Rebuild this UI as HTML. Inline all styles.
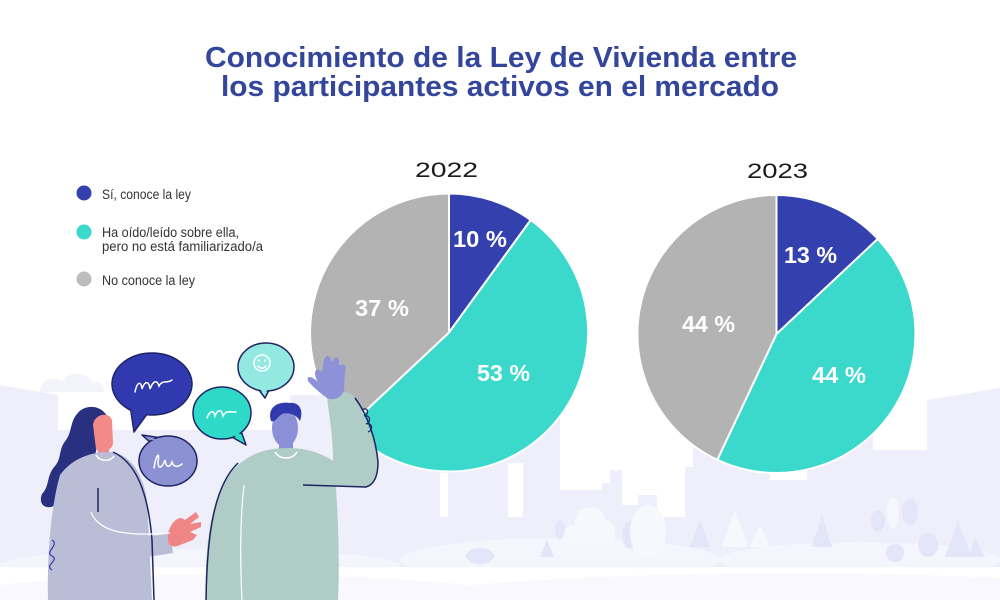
<!DOCTYPE html>
<html><head><meta charset="utf-8"><style>
html,body{margin:0;padding:0;background:#fff;}
svg{display:block;}
</style></head><body>
<svg width="1000" height="600" viewBox="0 0 1000 600" xmlns="http://www.w3.org/2000/svg">
<rect width="1000" height="600" fill="#fff"/>
<!-- skyline background -->
<g fill="#EEEFFB">
  <polygon points="0,385 58,395 58,567 0,567"/>
  <rect x="58" y="430" width="240" height="137"/>
  <rect x="290" y="395" width="270" height="172"/>
  <rect x="560" y="465" width="133" height="102"/>
  <rect x="693" y="400" width="234" height="167"/>
  <polygon points="927,400 1000,388 1000,567 927,567"/>
</g>
<path d="M40,390 C42,378 55,376 62,382 C68,370 88,372 92,382 C100,380 106,386 104,392 L40,392 Z" fill="#F3F4FC"/>
<g fill="#fff">
  <rect x="440" y="473" width="8" height="44"/>
  <rect x="508" y="463" width="15" height="54"/>
  <rect x="560" y="380" width="42" height="110"/>
  <rect x="602" y="380" width="8" height="103"/>
  <rect x="610" y="380" width="12" height="90"/>
  <rect x="622" y="380" width="16" height="125"/>
  <rect x="638" y="380" width="19" height="115"/>
  <rect x="657" y="380" width="28" height="137"/>
  <rect x="685" y="380" width="8" height="87"/>
  <rect x="770" y="440" width="37" height="40"/>
  <rect x="873" y="380" width="54" height="70"/>
</g>
<!-- light hills in band -->
<g fill="#F4F5FD">
  <ellipse cx="560" cy="560" rx="160" ry="22"/>
  <ellipse cx="860" cy="560" rx="140" ry="18"/>
  <ellipse cx="200" cy="565" rx="200" ry="16"/>
</g>
<!-- trees -->
<g fill="#E3E5F8">
  <polygon points="690,547 700,520 710,547"/>
  <polygon points="812,547 822,515 832,547"/>
  <polygon points="945,557 958,522 972,557"/>
  <polygon points="968,557 975,538 985,557"/>
  <polygon points="540,557 547,540 554,557"/>
  <ellipse cx="878" cy="521" rx="7" ry="11"/>
  <ellipse cx="910" cy="512" rx="8" ry="13"/>
  <ellipse cx="895" cy="553" rx="9" ry="9"/>
  <ellipse cx="928" cy="545" rx="10" ry="12"/>
  <ellipse cx="560" cy="530" rx="5" ry="9"/>
  <ellipse cx="480" cy="556" rx="14" ry="8"/>
  <ellipse cx="630" cy="535" rx="8" ry="14"/>
</g>
<g fill="#F7F8FE">
  <ellipse cx="648" cy="532" rx="18" ry="27"/>
  <path d="M575,545 C560,545 560,525 575,525 C572,505 600,500 605,520 C618,520 620,545 605,545 Z"/>
  <ellipse cx="893" cy="513" rx="6" ry="16"/>
  <polygon points="722,547 735,510 748,547"/>
  <polygon points="750,547 760,525 770,547"/>
</g>
<!-- ground -->
<rect x="0" y="567" width="1000" height="33" fill="#fff"/>
<path d="M0,585 C150,570 330,572 470,585 C600,575 780,568 1000,578 L1000,600 L0,600 Z" fill="#F8F8FE"/>

<!-- Title -->
<g font-family="'Liberation Sans', sans-serif" font-weight="bold" font-size="29" fill="#34469B">
  <text x="205" y="67" textLength="592" lengthAdjust="spacingAndGlyphs">Conocimiento de la Ley de Vivienda entre</text>
  <text x="221" y="96" textLength="558" lengthAdjust="spacingAndGlyphs">los participantes activos en el mercado</text>
</g>

<!-- Legend -->
<circle cx="84" cy="193" r="7.5" fill="#3340AE"/>
<circle cx="84" cy="232" r="7.5" fill="#3AD9CC"/>
<circle cx="84" cy="279" r="7.5" fill="#BDBDBD"/>
<g font-family="'Liberation Sans', sans-serif" font-size="13.5" fill="#333">
  <text x="102" y="199" textLength="89" lengthAdjust="spacingAndGlyphs">Sí, conoce la ley</text>
  <text x="102" y="237" textLength="137" lengthAdjust="spacingAndGlyphs">Ha oído/leído sobre ella,</text>
  <text x="102" y="251" textLength="161" lengthAdjust="spacingAndGlyphs">pero no está familiarizado/a</text>
  <text x="102" y="285" textLength="93" lengthAdjust="spacingAndGlyphs">No conoce la ley</text>
</g>

<!-- Year labels -->
<g font-family="'Liberation Sans', 'DejaVu Sans', sans-serif" font-size="21" fill="#1a1a1a">
  <text x="415" y="177" textLength="63" lengthAdjust="spacingAndGlyphs">2022</text>
  <text x="747" y="178" textLength="61" lengthAdjust="spacingAndGlyphs">2023</text>
</g>

<!-- Pie 2022 -->
<g stroke="#fff" stroke-width="2" stroke-linejoin="round">
  <path d="M449,332.5 L449,193.5 A139,139 0 0 1 530.7,220 Z" fill="#3340AE"/>
  <path d="M449,332.5 L530.7,220 A139,139 0 1 1 347.7,427.6 Z" fill="#3AD9CC"/>
  <path d="M449,332.5 L347.7,427.6 A139,139 0 0 1 449,193.5 Z" fill="#B3B3B3"/>
</g>
<!-- Pie 2023 -->
<g stroke="#fff" stroke-width="2" stroke-linejoin="round">
  <path d="M776.5,334 L776.5,195 A139,139 0 0 1 877.8,238.9 Z" fill="#3340AE"/>
  <path d="M776.5,334 L877.8,238.9 A139,139 0 0 1 717.3,459.8 Z" fill="#3AD9CC"/>
  <path d="M776.5,334 L717.3,459.8 A139,139 0 0 1 776.5,195 Z" fill="#B3B3B3"/>
</g>
<!-- Pie labels -->
<g font-family="'Liberation Sans', sans-serif" font-weight="bold" font-size="23" fill="#fff">
  <text x="453" y="247" textLength="54" lengthAdjust="spacingAndGlyphs">10 %</text>
  <text x="355" y="316" textLength="54" lengthAdjust="spacingAndGlyphs">37 %</text>
  <text x="477" y="381" textLength="53" lengthAdjust="spacingAndGlyphs">53 %</text>
  <text x="784" y="263" textLength="53" lengthAdjust="spacingAndGlyphs">13 %</text>
  <text x="682" y="332" textLength="53" lengthAdjust="spacingAndGlyphs">44 %</text>
  <text x="812" y="383" textLength="54" lengthAdjust="spacingAndGlyphs">44 %</text>
</g>

<!-- Illustration: speech bubbles -->
<g stroke="#1F2563" stroke-width="1.5" stroke-linejoin="round">
  <g>
    <path d="M130,405 L150,410 L134,432 Z" fill="#3139AE"/>
    <ellipse cx="152" cy="384" rx="40" ry="31" fill="#3139AE"/>
    <path d="M131,410 L148,412 L135,428 Z" fill="#3139AE" stroke="none"/>
  </g>
  <g>
    <path d="M150,442 L142,435 L162,438 Z" fill="#8C91D4"/>
    <ellipse cx="168" cy="461" rx="29" ry="25" fill="#8C91D4"/>
    <path d="M149,440 L145,437 L160,440 Z" fill="#8C91D4" stroke="none"/>
  </g>
  <g>
    <path d="M230,436 L246,445 L240,428 Z" fill="#2FD9C7"/>
    <ellipse cx="222" cy="413" rx="29" ry="26" fill="#2FD9C7"/>
    <path d="M232,434 L243,442 L238,430 Z" fill="#2FD9C7" stroke="none"/>
  </g>
  <g>
    <path d="M256,386 L265,398 L270,388 Z" fill="#93E8E2"/>
    <ellipse cx="266" cy="367" rx="28" ry="24" fill="#93E8E2"/>
    <path d="M258,387 L265,395 L268,388 Z" fill="#93E8E2" stroke="none"/>
  </g>
</g>
<g fill="none" stroke="#fff" stroke-width="1.5" stroke-linecap="round">
  <path d="M135,392 C137,382 141,380 142,389 C145,380 149,381 150,389 C153,381 157,379 159,386 C163,379 167,384 172,380"/>
  <path d="M154,468 C156,455 160,450 158,462 C158,470 162,468 165,460 C166,468 170,468 172,462 C174,468 178,467 182,464"/>
  <path d="M207,418 C210,410 214,410 215,416 C218,408 222,410 223,416 C226,410 230,412 236,412"/>
  <circle cx="262" cy="363" r="8"/>
  <path d="M258,366 C260,369 264,369 266,366"/>
  <path d="M259,360 L259,361 M265,360 L265,361"/>
</g>

<!-- Woman -->
<path d="M108,418 C102,404 84,404 77,414 C70,422 72,432 66,440 C58,450 62,458 55,466 C46,476 50,486 42,494 C38,504 45,510 54,506 L64,500 L72,470 L95,456 L100,430 Z" fill="#28307F"/>
<rect x="98" y="442" width="11" height="15" fill="#F08585"/>
<path d="M93,425 C94,414 109,411 112,420 L113,444 C111,452 100,453 96,449 Z" fill="#F18A88"/>
<path d="M60,475 C72,458 92,452 108,452 C128,452 142,470 147,500 L152,600 L48,600 C47,560 50,510 60,475 Z" fill="#BABDD6"/>
<path d="M60,527 C75,550 100,558 125,558 C145,558 160,555 173,553 L170,533 C150,538 120,537 100,525 C95,520 92,515 91,512 Z" fill="#BABDD6"/>
<path d="M168,533 C172,520 180,515 185,520 L196,512 L199,517 L190,524 L201,522 L201,527 L190,532 L197,535 L193,540 L180,545 C174,548 170,546 168,542 Z" fill="#F08585"/>
<path d="M113,452 C135,462 148,490 152,540 L154,600" fill="none" stroke="#1F2563" stroke-width="1.5"/>
<path d="M91,512 C98,530 120,537 170,533" fill="none" stroke="#fff" stroke-width="1.2"/>
<path d="M96,455 C100,462 110,462 114,456" fill="none" stroke="#fff" stroke-width="1.5"/>
<path d="M98,488 L98,512" fill="none" stroke="#1F2563" stroke-width="1.5"/>
<path d="M52,540 C60,545 44,552 52,556 C60,560 44,565 52,570" fill="none" stroke="#3139AE" stroke-width="1.2"/>

<!-- Man -->
<rect x="279" y="438" width="14" height="16" fill="#8A8FD6"/>
<path d="M206,600 C204,540 212,490 238,465 C253,452 270,448 287,448 C305,448 320,452 335,462 L335,470 C338,520 340,560 338,600 Z" fill="#AFCDC6"/>
<path d="M327,398 C335,392 348,388 355,398 C365,415 375,440 378,460 C378,478 372,485 365,487 L303,485 C315,478 330,470 333,460 C333,440 330,420 327,398 Z" fill="#AFCDC6"/>
<path d="M318,382 C312,372 316,366 322,372 L324,360 C326,354 331,355 331,362 L333,360 C335,355 340,357 339,364 L341,366 C344,362 347,366 345,372 L344,390 C342,398 334,401 327,398 C320,393 312,386 308,381 C306,376 311,375 318,382 Z" fill="#8D92D8"/>
<ellipse cx="285" cy="428" rx="13" ry="19" fill="#8A8FD6"/>
<path d="M271,421 C267,408 277,401 290,403 C299,402 304,410 300,421 C296,414 288,412 282,414 C278,416 275,423 271,421 Z" fill="#3039AE"/>
<path d="M275,452 C280,460 292,460 297,452" fill="none" stroke="#fff" stroke-width="1.5"/>
<path d="M238,463 C215,485 207,530 206,600" fill="none" stroke="#1F2563" stroke-width="1.5"/>
<path d="M355,398 C368,415 376,440 378,462 C378,478 373,485 366,487 L303,485" fill="none" stroke="#1F2563" stroke-width="1.5"/>
<path d="M244,485 C240,520 240,560 242,600" fill="none" stroke="#fff" stroke-width="1.2"/>
<path d="M362,410 C368,406 370,414 364,416 C370,414 372,422 366,424 C372,422 374,430 368,432" fill="none" stroke="#1F2563" stroke-width="1.2"/>
</svg>
</body></html>
